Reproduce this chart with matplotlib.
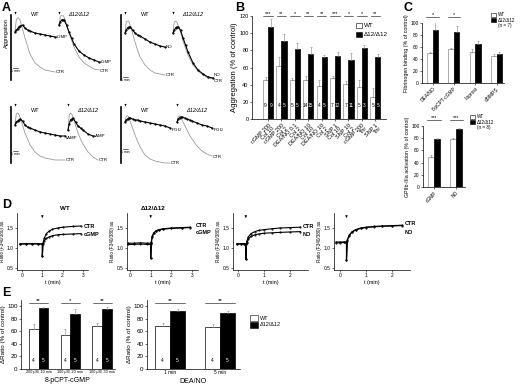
import numpy as np
import matplotlib.pyplot as plt
from matplotlib.patches import Rectangle

plt.rcParams['font.family'] = ['Liberation Sans', 'DejaVu Sans']
plt.rcParams['axes.linewidth'] = 0.5

W, H = 520, 389
KO = 'Δ12/Δ12'

# ---- A: aggregation traces (time in min, light transmission change in a.u.)
a_t = [0, 0.25, 0.5, 0.75, 1, 1.5, 2, 2.5, 3, 4, 5, 6, 7, 8, 9, 10]

a1_wt_ctr = [0, -24, -28, -28, -24, -6, 12, 28, 44, 62, 70, 76, 78, 80]
a1_wt_trt = [0, -4, -6, -10, -12, -14, -8, -4, -2, 2, 4, 6, 8, 10]
a1_ko_ctr = [-14, -30, -34, -34, -30, -16, 2, 16, 30, 50, 62, 68, 74, 76]
a1_ko_trt = [-14, -20, -24, -24, -24, -14, 0, 12, 24, 38, 46, 52, 56, 60]

a2_wt_ctr = [2, -20, -22, -22, -14, 2, 20, 36, 50, 66, 76, 82, 84, 86]
a2_wt_trt = [2, -4, -8, -10, -10, -4, 2, 6, 8, 14, 20, 24, 28, 30]
a2_ko_ctr = [2, -20, -22, -20, -14, 0, 18, 32, 46, 66, 78, 86, 92, 94]
a2_ko_trt = [2, -4, -8, -10, -10, -4, 12, 26, 40, 62, 76, 84, 90, 92]

a3_wt_ctr = [16, -6, -8, -6, 0, 16, 32, 44, 56, 70, 78, 82, 84, 86, 86, 86]
a3_wt_trt = [16, 10, 8, 6, 4, 8, 16, 20, 22, 26, 30, 32, 34, 36, 38, 38]
a3_ko_ctr = [26, -4, -8, -6, 0, 16, 32, 44, 54, 70, 80, 86]
a3_ko_trt = [26, 14, 6, 4, 2, 10, 18, 22, 26, 34, 38]

a4_wt_ctr = [10, -2, -2, 0, 8, 22, 36, 48, 60, 76, 84, 88, 90, 92, 92]
a4_wt_trt = [10, 6, 4, 2, 2, 4, 6, 6, 8, 10, 12, 14, 16, 18, 22]
a4_ko_ctr = [10, -2, -2, 0, 6, 16, 26, 36, 44, 58, 68, 74, 78]
a4_ko_trt = [10, 4, 2, 0, 0, 2, 4, 6, 8, 12, 16, 18, 22]

# ---- B
b_labels = ['cGMP 200\nCol 10', 'cGMP 200\nCol 2', 'DEA/NO 0.1\nCol 2',
            'DEA/NO 10\nCol 10', 'DEA/NO 10\nCol 2', 'SNP 1\nCol 10',
            'SNP 10\nCol 2', 'cGMP 200\nThr', 'SNP 1\nThr']
b_wt = [46, 62, 45, 45, 39, 48, 41, 37, 26]
b_wt_err = [3, 10, 3, 5, 6, 2, 3, 8, 10]
b_ko = [107, 91, 81, 76, 72, 73, 69, 83, 72]
b_ko_err = [10, 8, 7, 8, 3, 5, 8, 3, 4]
b_n_wt = [9, 4, 5, 14, 4, 7, 7, 5, 5]
b_n_ko = [9, 5, 5, 15, 5, 12, 11, 3, 5]
b_sig = ['***', '**', '*', '**', '**', '***', '*', '*', '**']

# ---- C
c1_labels = ['DEA/NO', '8-pCPT-cGMP', 'Iloprost', 'cBIMPS']
c1_wt = [50, 56, 51, 45]
c1_wt_err = [2, 3, 5, 3]
c1_ko = [88, 85, 65, 48]
c1_ko_err = [13, 10, 5, 3]
c1_sig = ['*', '*', '', '']

c2_labels = ['cGMP', 'NO']
c2_wt = [50, 79]
c2_wt_err = [2, 2]
c2_ko = [78, 95]
c2_ko_err = [2, 1]
c2_sig = ['***', '***']

# ---- D: Ca2+ ratio traces
d1_t = [-0.1, 0.2, 0.5, 0.8, 1.0, 1.0, 1.03, 1.1, 1.2, 1.35, 1.5, 1.75, 2.0, 2.5, 2.9]
d1_ctr = [1.10, 1.11, 1.10, 1.11, 1.10, 0.80, 1.12, 1.25, 1.36, 1.43, 1.47, 1.50, 1.52, 1.54, 1.55]
d1_trt = [1.10, 1.10, 1.11, 1.10, 1.10, 0.80, 1.11, 1.18, 1.24, 1.28, 1.31, 1.33, 1.34, 1.35, 1.36]

d2_t = [-0.1, 0.2, 0.5, 0.8, 1.0, 1.0, 1.03, 1.08, 1.15, 1.25, 1.4, 1.6, 2.0, 2.5, 2.9]
d2_ctr = [1.12, 1.12, 1.13, 1.12, 1.12, 0.75, 1.15, 1.30, 1.38, 1.43, 1.46, 1.48, 1.50, 1.51, 1.52]
d2_trt = [1.09, 1.09, 1.10, 1.09, 1.09, 0.75, 1.13, 1.28, 1.37, 1.42, 1.45, 1.47, 1.49, 1.50, 1.51]

d3_t = [-0.05, 0.1, 0.25, 0.3, 0.3, 0.33, 0.4, 0.5, 0.65, 0.8, 1.0, 1.3, 1.6, 2.0, 2.4]
d3_ctr = [1.10, 1.11, 1.10, 1.10, 0.72, 1.15, 1.28, 1.36, 1.41, 1.44, 1.46, 1.48, 1.50, 1.51, 1.52]
d3_trt = [1.10, 1.10, 1.11, 1.10, 0.72, 1.12, 1.22, 1.29, 1.33, 1.35, 1.37, 1.38, 1.39, 1.40, 1.41]

d4_t = [-0.15, 0.0, 0.15, 0.25, 0.25, 0.28, 0.35, 0.45, 0.6, 0.8, 1.0, 1.3, 1.6, 2.0, 2.4]
d4_ctr = [1.15, 1.15, 1.15, 1.15, 0.70, 1.20, 1.32, 1.40, 1.46, 1.50, 1.52, 1.54, 1.55, 1.56, 1.57]
d4_trt = [1.13, 1.13, 1.14, 1.13, 0.70, 1.18, 1.30, 1.39, 1.45, 1.49, 1.51, 1.53, 1.54, 1.55, 1.56]

# ---- E
e1_labels = ['200 μM, 10 min', '100 μM, 20 min', '100 μM, 30 min']
e1_wt = [63, 54, 68]
e1_wt_err = [8, 9, 6]
e1_ko = [97, 88, 96]
e1_ko_err = [2, 7, 3]
e1_sig = ['**', '*', '**']

e2_labels = ['1 min', '5 min']
e2_wt = [69, 67]
e2_wt_err = [5, 4]
e2_ko = [92, 90]
e2_ko_err = [3, 3]
e2_sig = ['**', '**']

fig = plt.figure(figsize=(5.2, 3.89), dpi=100)


def box(l, t, r, b):
    return [l / W, 1 - b / H, (r - l) / W, (b - t) / H]


def ftext(x, y, s, **kw):
    fig.text(x / W, 1 - y / H, s, **kw)


def key(x, y, rows, bw, bh, size, gap):
    for i, (fc, s) in enumerate(rows):
        yy = y + i * gap
        if fc is not None:
            fig.add_artist(Rectangle((x / W, 1 - (yy + bh) / H), bw / W, bh / H,
                                     facecolor=fc, edgecolor='black', lw=0.4,
                                     transform=fig.transFigure))
        ftext(x + bw + 2, yy + bh / 2, s, fontsize=size, va='center')


def style(ax, size=4):
    for s in ['top', 'right']:
        ax.spines[s].set_visible(False)
    ax.tick_params(length=1.5, width=0.4, labelsize=size, pad=1)


def bar_pair(ax, wt, wt_err, ko, ko_err, w, edge):
    x = np.arange(len(wt))
    ek = dict(ecolor='#808080', elinewidth=0.4, capsize=1, capthick=0.4)
    ax.bar(x - w / 2, wt, w, color='white', edgecolor=edge, linewidth=0.5,
           yerr=[np.zeros(len(wt)), wt_err], error_kw=ek)
    ax.bar(x + w / 2, ko, w, color='black', edgecolor='black', linewidth=0.5,
           yerr=[np.zeros(len(ko)), ko_err], error_kw=ek)
    return x


def stars(ax, x, text, y, half, size=4):
    if not text:
        return
    ax.plot([x - half, x + half], [y, y], color='black', lw=0.4, clip_on=False)
    ax.text(x, y, text, ha='center', va='bottom', fontsize=size, clip_on=False)


# ================= A =================
def agg_panel(rect, shift, traces, title_y, arrow_y, bounds, bar_y, gap):
    ax = fig.add_axes(rect)
    for y, off, dark, name, dy in traces:
        t = np.array(a_t[:len(y)]) + off
        if dark:
            ax.plot(t, y, color='black', lw=0.8, marker='.', ms=1.2)
        else:
            ax.plot(t, y, color='#9a9a9a', lw=0.6)
        ax.text(t[-1] + 0.2, y[-1] + dy, name, fontsize=3.2, va='center')
    for x0, s in [(0, 'WT'), (shift, KO)]:
        ax.text(x0 + 4, title_y, s, fontsize=4, ha='center', va='center',
                style='italic' if s == KO else 'normal', clip_on=False)
        ax.annotate('', xy=(x0 + 0.1, arrow_y + 12), xytext=(x0 + 0.1, arrow_y),
                    arrowprops=dict(arrowstyle='-|>', lw=0.4, color='black',
                                    mutation_scale=2.5), annotation_clip=False)
    ax.plot([-0.5, 0.5], [bar_y, bar_y], color='black', lw=0.4)
    ax.text(0, bar_y + gap, '1 min', fontsize=2.5, ha='center', va='center')
    ax.set_xlim(-0.8, 19.4)
    ax.set_ylim(96, -34)
    for s in ['top', 'right', 'bottom']:
        ax.spines[s].set_visible(False)
    ax.spines['left'].set_linewidth(1.2)
    ax.spines['left'].set_bounds(*bounds)
    ax.set_xticks([])
    ax.set_yticks([])
    return ax


agg_panel(box(11, 15, 112, 80), 8.8,
          [(a1_wt_ctr, 0, False, 'CTR', 0), (a1_wt_trt, 0, True, 'cGMP', 0),
           (a1_ko_ctr, 8.8, False, 'CTR', 2), (a1_ko_trt, 8.8, True, 'cGMP', 0)],
          -34, -42, (-34, 96), 72, 6)
agg_panel(box(121, 15, 222, 80), 9.6,
          [(a2_wt_ctr, 0, False, 'CTR', 0), (a2_wt_trt, 0, True, 'NO', 0),
           (a2_ko_ctr, 9.6, False, 'CTR', 4), (a2_ko_trt, 9.6, True, 'NO', -6)],
          -34, -42, (-34, 96), 90, 6)
agg_panel(box(11, 100, 112, 165), 10.6,
          [(a3_wt_ctr, 0, False, 'CTR', 0), (a3_wt_trt, 0, True, 'cAMP', 4),
           (a3_ko_ctr, 10.6, False, 'CTR', 0), (a3_ko_trt, 10.6, True, 'cAMP', 0)],
          -14, -28, (-20, 92), 68, 6)
agg_panel(box(121, 100, 222, 165), 10.4,
          [(a4_wt_ctr, 0, False, 'CTR', 0), (a4_wt_trt, 0, True, 'PGI$_2$', 4),
           (a4_ko_ctr, 10.4, False, 'CTR', 2), (a4_ko_trt, 10.4, True, 'PGI$_2$', 4)],
          -14, -28, (-20, 92), 64, 6)
ftext(6, 33, 'Aggregation', rotation=90, fontsize=4, ha='center', va='center')

# ================= B =================
axb = fig.add_axes(box(252, 16, 386, 119))
x = bar_pair(axb, b_wt, b_wt_err, b_ko, b_ko_err, 0.38, '#8c8c8c')
for i in x:
    axb.text(i - 0.19, 16, str(b_n_wt[i]), ha='center', va='center', fontsize=3.5)
    axb.text(i + 0.19, 16, str(b_n_ko[i]), ha='center', va='center', fontsize=3.5, color='white')
    stars(axb, i, b_sig[i], 120, 0.35)
axb.set_xlim(-1.2, 8.8)
axb.set_ylim(0, 120)
axb.set_yticks(range(0, 121, 20))
axb.set_xticks(x)
axb.set_xticklabels(b_labels, rotation=45, ha='right', rotation_mode='anchor',
                    fontsize=3.3, linespacing=0.9)
axb.set_ylabel('Aggregation (% of control)', fontsize=5.5, labelpad=1)
style(axb, 4)
key(356, 23, [('white', 'WT'), ('black', KO)], 6, 5, 4.5, 9)

# ================= C =================
axc = fig.add_axes(box(422, 23, 504, 83))
x = bar_pair(axc, c1_wt, c1_wt_err, c1_ko, c1_ko_err, 0.26, '#8c8c8c')
for i in x:
    stars(axc, i, c1_sig[i], 110, 0.3)
axc.set_xlim(-0.5, 3.35)
axc.set_ylim(0, 100)
axc.set_yticks(range(0, 101, 20))
axc.set_xticks(x)
axc.set_xticklabels(c1_labels, rotation=45, ha='right', rotation_mode='anchor', fontsize=3.8)
axc.set_ylabel('Fibrinogen binding (% of control)', fontsize=3.8, labelpad=1)
style(axc, 3.5)
key(491, 13, [('white', 'WT'), ('black', KO), (None, '(n = 7)')], 5, 4, 3.3, 5)

axc2 = fig.add_axes(box(423, 126, 465, 187))
x = bar_pair(axc2, c2_wt, c2_wt_err, c2_ko, c2_ko_err, 0.28, '#8c8c8c')
for i in x:
    stars(axc2, i, c2_sig[i], 110, 0.3)
axc2.set_xlim(-0.5, 1.4)
axc2.set_ylim(0, 100)
axc2.set_yticks(range(0, 101, 20))
axc2.set_xticks(x)
axc2.set_xticklabels(c2_labels, rotation=45, ha='right', rotation_mode='anchor', fontsize=3.8)
axc2.set_ylabel('GPIIb-IIIa activation (% of control)', fontsize=3.8, labelpad=1)
style(axc2, 3.5)
key(470, 115, [('white', 'WT'), ('black', KO), (None, '(n = 8)')], 5, 4, 3.3, 5)


# ================= D =================
def ratio_panel(rect, xlim, xticks, t, ctr, trt, name, arrow_t, lab_t, lab_y, title, title_t):
    ax = fig.add_axes(rect)
    ax.plot(t, ctr, color='black', lw=0.8, marker='.', ms=1)
    ax.plot(t, trt, color='black', lw=0.8, marker='.', ms=1)
    ax.set_xlim(*xlim)
    ax.set_ylim(0.45, 1.875)
    ax.set_xticks(xticks)
    ax.set_yticks([0.5, 1.0, 1.5])
    ax.set_xlabel('t (min)', fontsize=4, labelpad=1)
    ax.set_ylabel('Ratio (F340/380) au', fontsize=3.3, labelpad=1)
    style(ax, 3.5)
    ax.annotate('', xy=(arrow_t, 1.68), xytext=(arrow_t, 1.86),
                arrowprops=dict(arrowstyle='-|>', lw=0.5, color='black', mutation_scale=3),
                annotation_clip=False)
    ax.text(lab_t, lab_y[0], 'CTR', fontsize=4, va='center', fontweight='bold', clip_on=False)
    ax.text(lab_t, lab_y[1], name, fontsize=4, va='center', fontweight='bold', clip_on=False)
    if title:
        ax.text(title_t, 2.0, title, fontsize=4.5, ha='center', va='center',
                fontweight='bold', clip_on=False)


ratio_panel(box(17, 213, 88, 270), (-0.25, 3.25), [0, 1, 2, 3], d1_t, d1_ctr, d1_trt,
            'cGMP', 1.0, 3.05, (1.55, 1.33), 'WT', 2.1)
ratio_panel(box(127, 213, 198, 270), (-0.15, 3.3), [0, 1, 2, 3], d2_t, d2_ctr, d2_trt,
            'cGMP', 1.0, 3.2, (1.57, 1.40), KO, 1.1)
ratio_panel(box(233, 213, 308, 270), (-0.19, 2.69), [0, 1, 2], d3_t, d3_ctr, d3_trt,
            'NO', 0.3, 2.5, (1.55, 1.33), None, 0)
ratio_panel(box(334, 213, 410, 270), (-0.23, 2.69), [0, 1, 2], d4_t, d4_ctr, d4_trt,
            'NO', 0.25, 2.5, (1.62, 1.40), None, 0)


# ================= E =================
def e_panel(rect, xlim, labels, wt, wt_err, ko, ko_err, sig, xlabel, w, half, tick_size):
    ax = fig.add_axes(rect)
    x = bar_pair(ax, wt, wt_err, ko, ko_err, w, 'black')
    for i in x:
        ax.text(i - w / 2, 14, '4', ha='center', va='center', fontsize=3.5)
        ax.text(i + w / 2, 14, '5', ha='center', va='center', fontsize=3.5, color='white')
        stars(ax, i, sig[i], 105, half, 4.5)
    ax.set_xlim(*xlim)
    ax.set_ylim(0, 110)
    ax.set_yticks(range(0, 101, 20))
    ax.set_xticks(x)
    ax.set_xticklabels(labels, fontsize=tick_size)
    ax.set_xlabel(xlabel, fontsize=5, labelpad=2)
    ax.set_ylabel('ΔRatio (% of control)', fontsize=4.5, labelpad=1)
    style(ax, 4.5)
    ax.tick_params(axis='x', length=0, labelsize=tick_size)


e_panel(box(21, 300, 115, 369), (-0.55, 2.4), e1_labels, e1_wt, e1_wt_err, e1_ko, e1_ko_err,
        e1_sig, '8-pCPT-cGMP', 0.31, 0.3, 2.7)
e_panel(box(147, 300, 240, 369), (-0.46, 1.4), e2_labels, e2_wt, e2_wt_err, e2_ko, e2_ko_err,
        e2_sig, 'DEA/NO', 0.3, 0.3, 3.5)
key(250, 315, [('white', 'WT'), ('black', KO)], 8, 6, 4, 7)

# panel letters
for s, px, py in [('A', 2, 2), ('B', 235, 2), ('C', 403, 2), ('D', 2, 199), ('E', 2, 287)]:
    ftext(px, py, s, fontsize=9, fontweight='bold', va='top')

fig.savefig('out.png', dpi=100)
